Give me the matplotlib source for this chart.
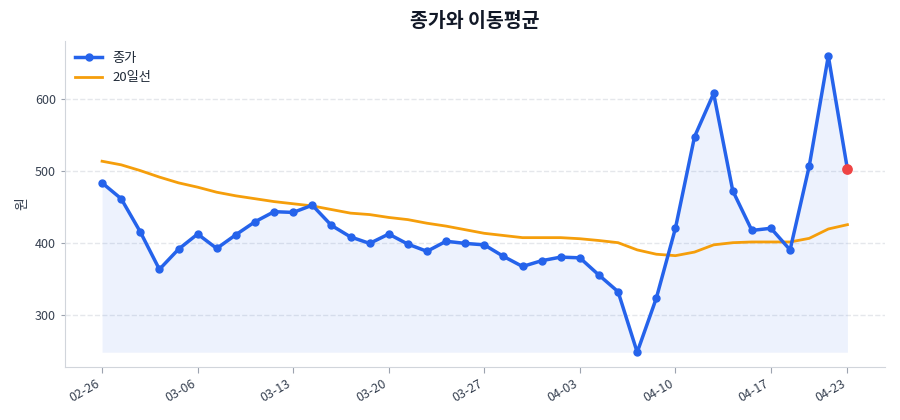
import matplotlib
matplotlib.use("Agg")
import matplotlib.pyplot as plt
import numpy as np

plt.rcParams['font.family'] = ['Noto Sans CJK KR', 'DejaVu Sans']

dates = ["02-26", "02-27", "02-28", "03-04", "03-05", "03-06", "03-07", "03-10", "03-11", "03-12",
         "03-13", "03-14", "03-17", "03-18", "03-19", "03-20", "03-21", "03-24", "03-25", "03-26",
         "03-27", "03-28", "03-31", "04-01", "04-02", "04-03", "04-04", "04-07", "04-08", "04-09",
         "04-10", "04-11", "04-14", "04-15", "04-16", "04-17", "04-18", "04-21", "04-22", "04-23"]

close = [484, 462, 416, 364, 392, 413, 393, 412, 430, 444,
         443, 453, 425, 409, 400, 413, 399, 389, 403, 400,
         398, 382, 368, 376, 381, 380, 356, 333, 249, 324,
         421, 548, 608, 473, 418, 421, 391, 507, 660, 503]

ma20 = [514, 509, 501, 492, 484, 478, 471, 466, 462, 458,
        455, 452, 447, 442, 440, 436, 433, 428, 424, 419,
        414, 411, 408, 408, 408, 406.5, 404, 401, 391, 385,
        383, 388, 398, 401, 402, 402, 402, 407, 420, 426]

tick_idx = [0, 5, 10, 15, 20, 25, 30, 35, 39]

blue = '#2563eb'
orange = '#f59e0b'
red = '#ef4444'
text_c = '#1f2937'
grid_c = '#e5e7eb'

fig = plt.figure(figsize=(9, 4.2), dpi=100)
ax = fig.add_axes([0.072, 0.126, 0.911, 0.776])

x = np.arange(len(close))
ax.fill_between(x, close, min(close), color=blue, alpha=0.08, linewidth=0)
ax.plot(x, close, color=blue, linewidth=2.5, marker='o', markersize=5, label='종가', zorder=3)
ax.plot(x, ma20, color=orange, linewidth=2, label='20일선', zorder=2)
ax.scatter([x[-1]], [close[-1]], color=red, s=45, zorder=4)

ax.set_xticks(tick_idx)
ax.set_xticklabels([dates[i] for i in tick_idx], rotation=30, ha='right', fontsize=9, color='#374151')
ax.set_yticks([300, 400, 500, 600])
ax.tick_params(axis='y', labelsize=9, labelcolor='#374151', color='#9ca3af', length=3)
ax.tick_params(axis='x', color='#9ca3af', length=4)
ax.set_ylabel('원', fontsize=10, color='#374151')
ax.set_title('종가와 이동평균', fontsize=14, fontweight='bold', color='#111827', pad=10)

ax.grid(axis='y', linestyle='--', color=grid_c, linewidth=1)
ax.set_axisbelow(True)
for s in ['top', 'right']:
    ax.spines[s].set_visible(False)
for s in ['left', 'bottom']:
    ax.spines[s].set_color('#d1d5db')

leg = ax.legend(loc='upper left', frameon=False, fontsize=9.5, borderaxespad=0.4)
for t in leg.get_texts():
    t.set_color(text_c)

fig.savefig('out.png', dpi=100)
